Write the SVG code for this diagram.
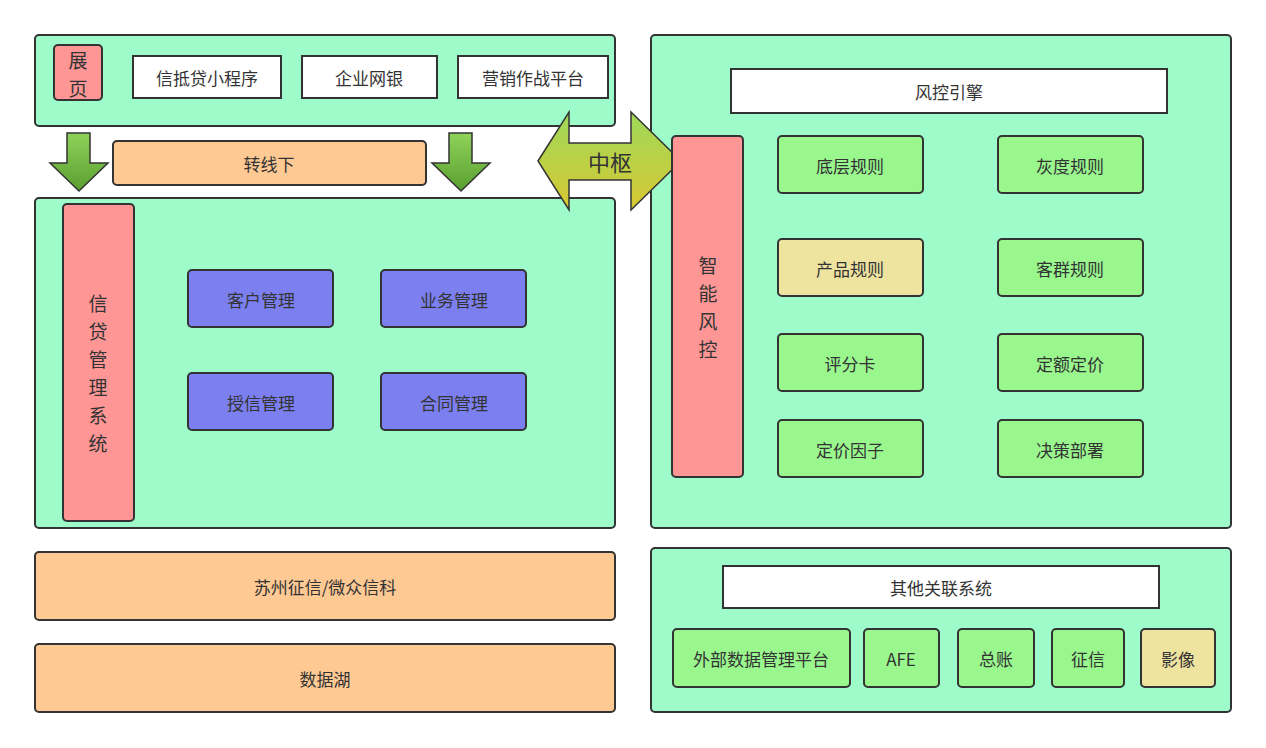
<svg xmlns="http://www.w3.org/2000/svg" width="1266" height="748" viewBox="0 0 1266 748">
<style>
text{font-family:"Noto Sans CJK SC","Liberation Sans",sans-serif;font-size:17px;fill:#333;text-anchor:middle;dominant-baseline:central}
.p{fill:#9dfcca;stroke:#333;stroke-width:2}
.w{fill:#fff;stroke:#333;stroke-width:2}
.o{fill:#ffc994;stroke:#333;stroke-width:2}
.r{fill:#ff9696;stroke:#333;stroke-width:2}
.b{fill:#7b7ff0;stroke:#333;stroke-width:2}
.g{fill:#99f78e;stroke:#333;stroke-width:2}
.y{fill:#efe3a0;stroke:#333;stroke-width:2}
.big{font-size:22px}
.v{font-size:19px}
</style>
<defs>
<linearGradient id="ga" x1="0" y1="0" x2="0" y2="1"><stop offset="0" stop-color="#8fd35a"/><stop offset="1" stop-color="#5a9e30"/></linearGradient>
<linearGradient id="gb" x1="0" y1="0" x2="0" y2="1"><stop offset="0" stop-color="#9ed95a"/><stop offset="1" stop-color="#d8c832"/></linearGradient>
</defs>
<g id="panels">
<rect class="p" x="35" y="35" width="580" height="91" rx="4"/>
<rect class="p" x="35" y="198" width="580" height="330" rx="4"/>
<rect class="p" x="651" y="35" width="580" height="493" rx="4"/>
<rect class="p" x="651" y="548" width="580" height="164" rx="4"/>
</g>
<g id="connectors">
<path d="M67,133H90V163H108L79,191L50,163H67Z" fill="url(#ga)" stroke="#333" stroke-width="1.5"/>
<path d="M449,133H472V163H490L461,191L432,163H449Z" fill="url(#ga)" stroke="#333" stroke-width="1.5"/>
<path d="M538,161L569,112V143H631V112L681,161L631,210V180H569V210Z" fill="url(#gb)" stroke="#333" stroke-width="1.5"/>
<text x="610" y="161" class="big">中枢</text>
</g>
<g id="n-zhanye"><rect class="r" x="54" y="45" width="48" height="55" rx="4"/><text x="78" y="59" class="v">展</text><text x="78" y="87" class="v">页</text></g>
<g id="n-xdd"><rect class="w" x="133" y="56" width="148" height="42"/><text x="207" y="77">信抵贷小程序</text></g>
<g id="n-qywy"><rect class="w" x="302" y="56" width="135" height="42"/><text x="369" y="77">企业网银</text></g>
<g id="n-yx"><rect class="w" x="458" y="56" width="150" height="42"/><text x="533" y="77">营销作战平台</text></g>
<g id="n-zxx"><rect class="o" x="113" y="141" width="313" height="44" rx="4"/><text x="269" y="163">转线下</text></g>
<g id="n-xdgl"><rect class="r" x="63" y="204" width="71" height="317" rx="4"/>
<text x="98" y="302" class="v">信</text><text x="98" y="330" class="v">贷</text><text x="98" y="358" class="v">管</text><text x="98" y="386" class="v">理</text><text x="98" y="414" class="v">系</text><text x="98" y="442" class="v">统</text></g>
<g id="n-kh"><rect class="b" x="188" y="270" width="145" height="57" rx="4"/><text x="261" y="299">客户管理</text></g>
<g id="n-yw"><rect class="b" x="381" y="270" width="145" height="57" rx="4"/><text x="454" y="299">业务管理</text></g>
<g id="n-sx"><rect class="b" x="188" y="373" width="145" height="57" rx="4"/><text x="261" y="402">授信管理</text></g>
<g id="n-ht"><rect class="b" x="381" y="373" width="145" height="57" rx="4"/><text x="454" y="402">合同管理</text></g>
<g id="n-fkyq"><rect class="w" x="731" y="69" width="436" height="44"/><text x="949" y="91">风控引擎</text></g>
<g id="n-znfk"><rect class="r" x="672" y="136" width="71" height="341" rx="4"/>
<text x="708" y="264" class="v">智</text><text x="708" y="292" class="v">能</text><text x="708" y="320" class="v">风</text><text x="708" y="348" class="v">控</text></g>
<g id="n-dc"><rect class="g" x="778" y="136" width="145" height="57" rx="4"/><text x="850" y="165">底层规则</text></g>
<g id="n-hd"><rect class="g" x="998" y="136" width="145" height="57" rx="4"/><text x="1070" y="165">灰度规则</text></g>
<g id="n-cp"><rect class="y" x="778" y="239" width="145" height="57" rx="4"/><text x="850" y="268">产品规则</text></g>
<g id="n-kq"><rect class="g" x="998" y="239" width="145" height="57" rx="4"/><text x="1070" y="268">客群规则</text></g>
<g id="n-pf"><rect class="g" x="778" y="334" width="145" height="57" rx="4"/><text x="850" y="363">评分卡</text></g>
<g id="n-de"><rect class="g" x="998" y="334" width="145" height="57" rx="4"/><text x="1070" y="363">定额定价</text></g>
<g id="n-dj"><rect class="g" x="778" y="420" width="145" height="57" rx="4"/><text x="850" y="449">定价因子</text></g>
<g id="n-jc"><rect class="g" x="998" y="420" width="145" height="57" rx="4"/><text x="1070" y="449">决策部署</text></g>
<g id="n-sz"><rect class="o" x="35" y="552" width="580" height="68" rx="4"/><text x="325" y="586">苏州征信/微众信科</text></g>
<g id="n-sjh"><rect class="o" x="35" y="644" width="580" height="68" rx="4"/><text x="325" y="678">数据湖</text></g>
<g id="n-qt"><rect class="w" x="723" y="566" width="436" height="42"/><text x="941" y="587">其他关联系统</text></g>
<g id="n-wb"><rect class="g" x="673" y="629" width="177" height="58" rx="4"/><text x="761" y="658">外部数据管理平台</text></g>
<g id="n-afe"><rect class="g" x="864" y="629" width="75" height="58" rx="4"/><text x="901" y="658">AFE</text></g>
<g id="n-zz"><rect class="g" x="958" y="629" width="76" height="58" rx="4"/><text x="996" y="658">总账</text></g>
<g id="n-zx"><rect class="g" x="1052" y="629" width="72" height="58" rx="4"/><text x="1088" y="658">征信</text></g>
<g id="n-yxx"><rect class="y" x="1141" y="629" width="74" height="58" rx="4"/><text x="1178" y="658">影像</text></g>
</svg>
